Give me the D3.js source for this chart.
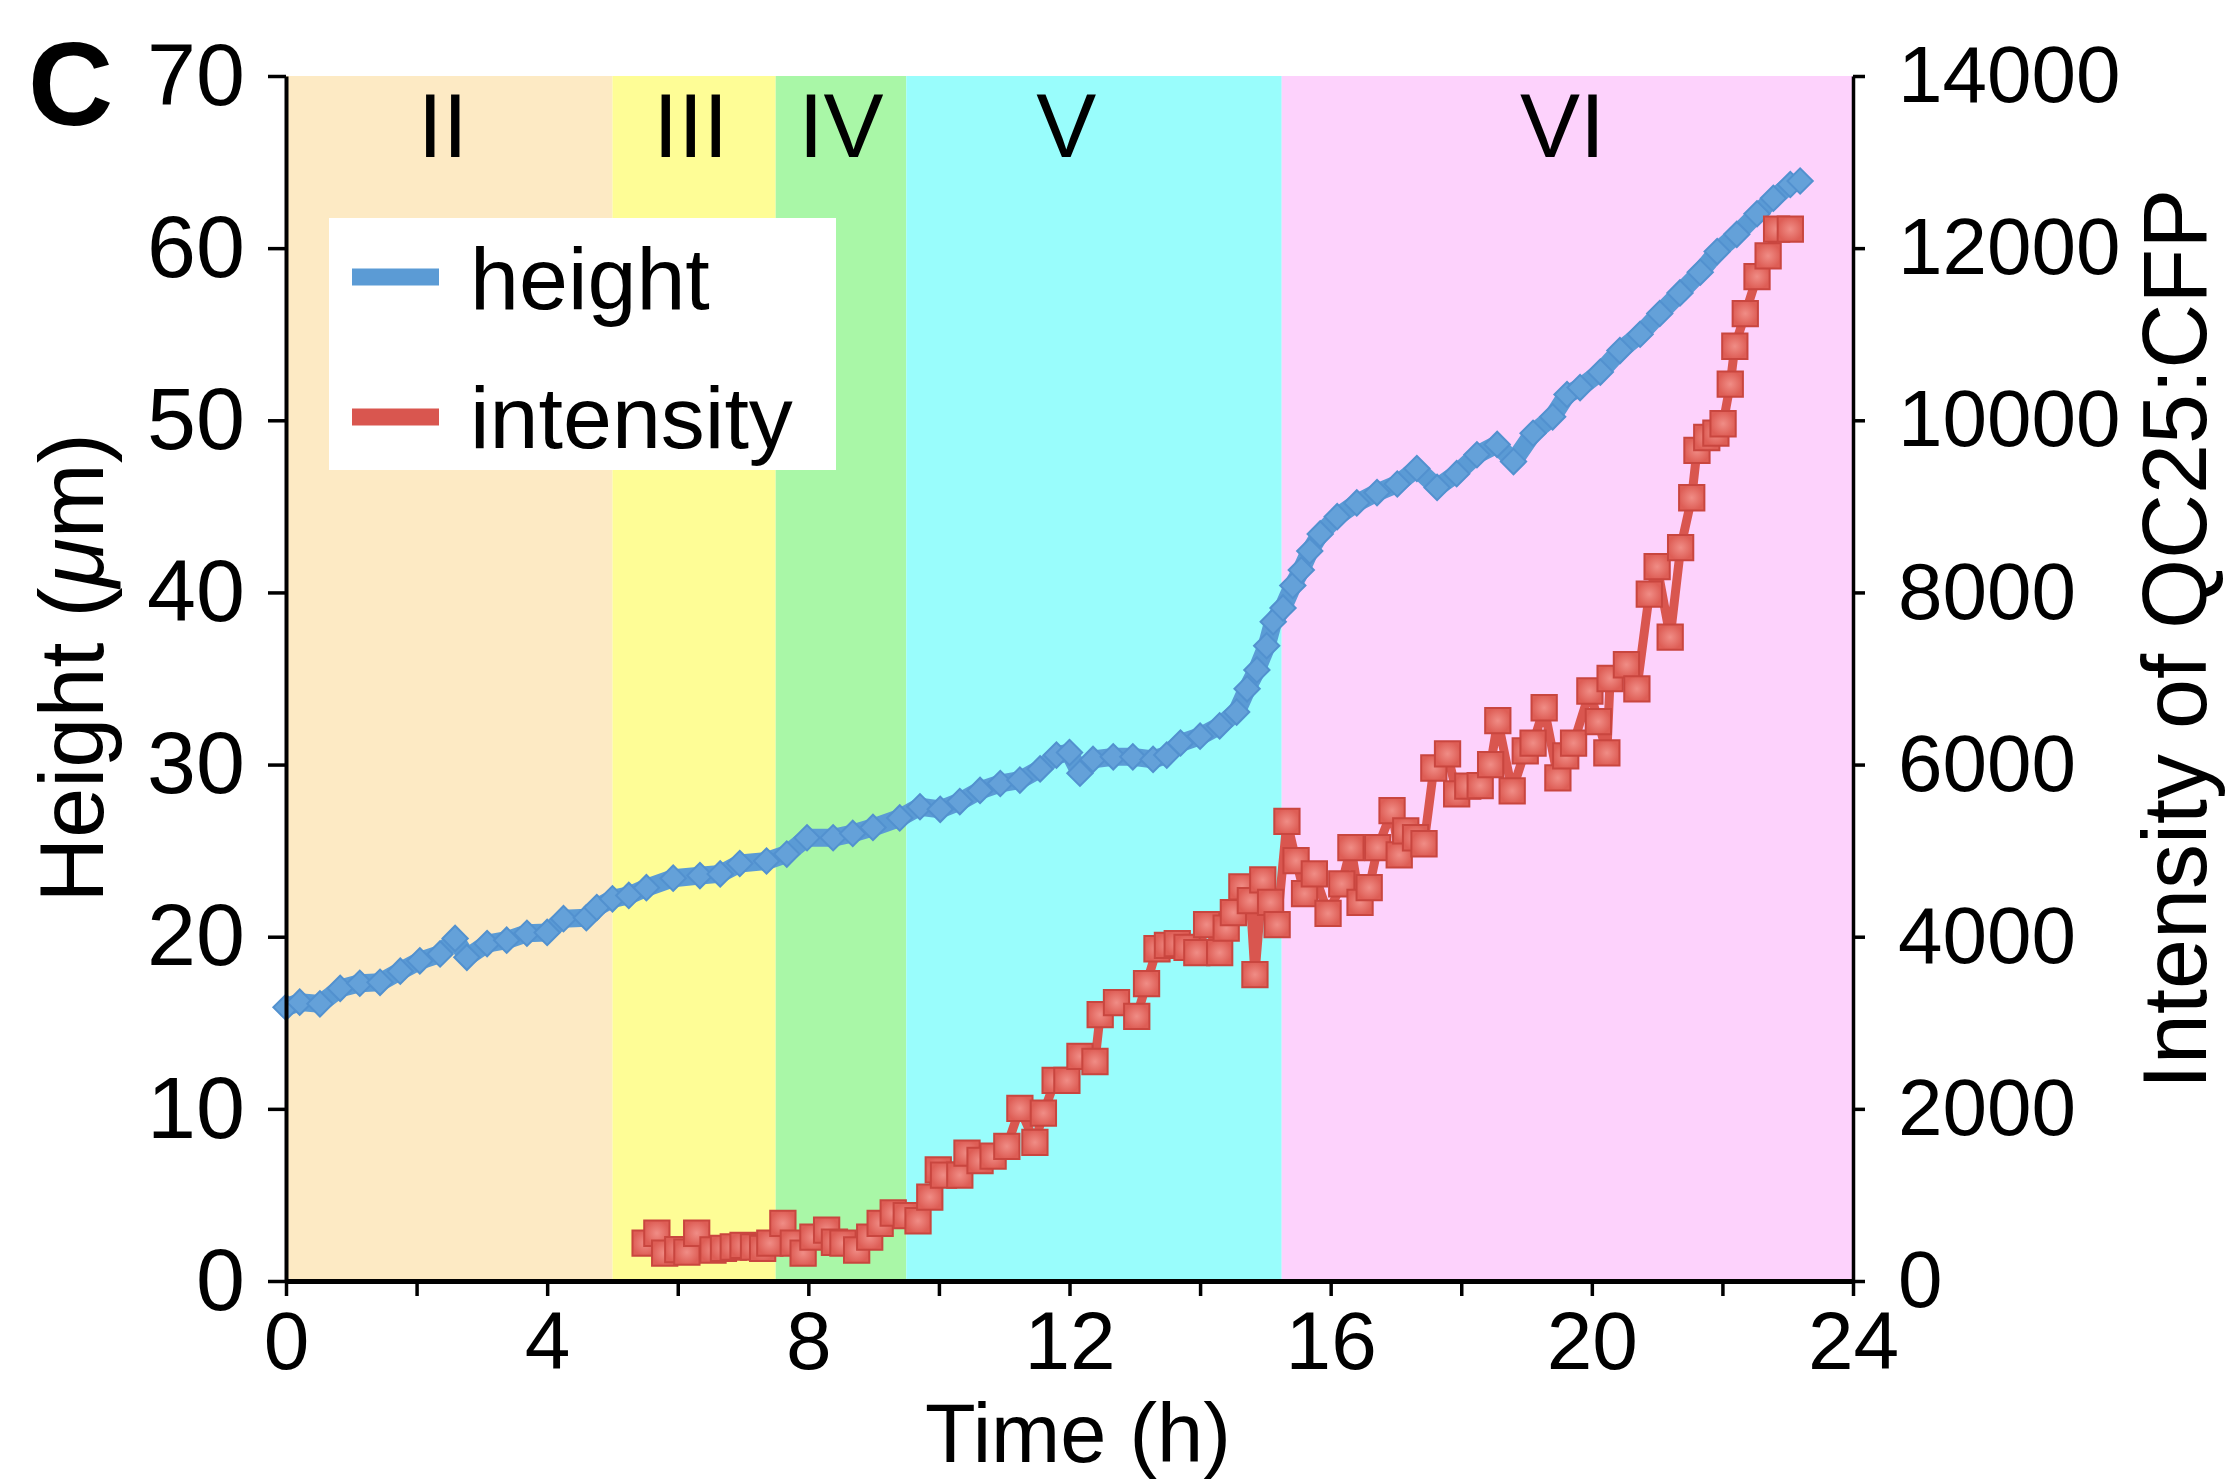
<!DOCTYPE html>
<html>
<head>
<meta charset="utf-8">
<script src="https://cdn.jsdelivr.net/npm/d3@7"></script>
<style>
  html, body { margin: 0; padding: 0; background: #fff; }
  svg { display: block; font-family: "Liberation Sans", Arial, Helvetica, sans-serif; }
</style>
</head>
<body>
<svg id="chart" width="2240" height="1480"></svg>
<script>
// ---------------- data ----------------
const phaseNames  = ["II", "III", "IV", "V", "VI"];
const phaseStart  = [0, 5, 7.5, 9.5, 15.25];
const phaseEnd    = [5, 7.5, 9.5, 15.25, 24];
const phaseLabelAt = [2.4, 6.2, 8.5, 11.95, 19.55];
const phaseColors = ["#fdeac4", "#fefd96", "#a9f7a7", "#99fdfc", "#fdd2fc"];

const xTicks = [0, 2, 4, 6, 8, 10, 12, 14, 16, 18, 20, 22, 24];
const leftTicks = [0, 10, 20, 30, 40, 50, 60, 70];
const rightTicks = [0, 2000, 4000, 6000, 8000, 10000, 12000, 14000];

// height (µm) vs time (h)
const heightTime = [0.0, 0.21, 0.52, 0.83, 1.13, 1.44, 1.75, 2.05, 2.36, 2.59, 2.77, 3.08, 3.38, 3.69, 4.0, 4.25, 4.6, 4.76, 5.0, 5.25, 5.52, 5.93, 6.34, 6.65, 6.95, 7.36, 7.67, 7.98, 8.38, 8.68, 8.99, 9.4, 9.71, 10.02, 10.32, 10.63, 10.94, 11.24, 11.55, 11.8, 12.0, 12.16, 12.36, 12.67, 12.97, 13.28, 13.49, 13.7, 14.0, 14.3, 14.56, 14.72, 14.87, 15.02, 15.12, 15.27, 15.42, 15.55, 15.68, 15.84, 16.1, 16.4, 16.71, 17.02, 17.32, 17.63, 17.93, 18.24, 18.55, 18.8, 19.1, 19.4, 19.62, 19.82, 20.13, 20.43, 20.74, 21.04, 21.35, 21.66, 21.92, 22.22, 22.53, 22.78, 23.04, 23.19];
const heightVal  = [15.9, 16.2, 16.1, 17.0, 17.3, 17.35, 18.0, 18.6, 19.0, 19.9, 18.8, 19.6, 19.8, 20.2, 20.25, 21.05, 21.1, 21.7, 22.2, 22.4, 22.85, 23.4, 23.55, 23.65, 24.25, 24.4, 24.8, 25.75, 25.75, 26.0, 26.35, 26.9, 27.55, 27.4, 27.85, 28.5, 28.9, 29.1, 29.75, 30.55, 30.7, 29.5, 30.3, 30.45, 30.45, 30.3, 30.55, 31.25, 31.65, 32.25, 33.05, 34.4, 35.5, 36.9, 38.3, 39.1, 40.4, 41.3, 42.4, 43.4, 44.4, 45.2, 45.8, 46.3, 47.2, 46.1, 46.9, 48.0, 48.6, 47.6, 49.25, 50.2, 51.5, 51.9, 52.8, 54.05, 55.0, 56.2, 57.4, 58.6, 59.8, 60.8, 62.0, 62.9, 63.7, 63.9];

// intensity of QC25:CFP vs time (h)
const intensityTime = [5.5, 5.68, 5.8, 6.0, 6.14, 6.29, 6.54, 6.7, 6.85, 7.0, 7.16, 7.3, 7.41, 7.61, 7.77, 7.92, 8.07, 8.28, 8.4, 8.53, 8.74, 8.94, 9.1, 9.3, 9.5, 9.68, 9.86, 9.99, 10.07, 10.32, 10.43, 10.63, 10.83, 11.04, 11.24, 11.47, 11.6, 11.78, 11.96, 12.16, 12.39, 12.47, 12.72, 13.03, 13.18, 13.34, 13.5, 13.65, 13.8, 13.95, 14.1, 14.3, 14.4, 14.51, 14.64, 14.77, 14.84, 14.96, 15.08, 15.18, 15.33, 15.47, 15.6, 15.75, 15.96, 16.17, 16.31, 16.45, 16.59, 16.72, 16.94, 17.05, 17.15, 17.3, 17.43, 17.58, 17.79, 17.93, 18.1, 18.29, 18.45, 18.56, 18.78, 18.98, 19.1, 19.27, 19.48, 19.6, 19.72, 19.97, 20.1, 20.23, 20.28, 20.53, 20.69, 20.88, 21.0, 21.2, 21.36, 21.53, 21.61, 21.76, 21.9, 22.01, 22.12, 22.19, 22.35, 22.53, 22.7, 22.83, 23.04];
const intensityVal  = [440, 555, 325, 365, 335, 555, 360, 380, 395, 415, 395, 380, 440, 670, 440, 325, 510, 590, 450, 440, 360, 510, 670, 790, 760, 700, 975, 1290, 1230, 1230, 1485, 1400, 1450, 1565, 2005, 1610, 1950, 2330, 2330, 2610, 2550, 3095, 3235, 3075, 3455, 3860, 3900, 3920, 3875, 3815, 4140, 3815, 4100, 4280, 4580, 4420, 3560, 4660, 4400, 4140, 5340, 4885, 4500, 4730, 4270, 4615, 5035, 4400, 4570, 5035, 5465, 4950, 5230, 5150, 5080, 5960, 6125, 5660, 5750, 5755, 6000, 6510, 5695, 6160, 6250, 6660, 5845, 6100, 6250, 6855, 6500, 6135, 7000, 7160, 6880, 7980, 8300, 7480, 8520, 9100, 9650, 9800, 9850, 9960, 10420, 10860, 11240, 11670, 11910, 12220, 12220];

const legendLabels = ["height", "intensity"];
const seriesColors = { height: "#5b9bd5", intensity: "#d9564f" };

// ---------------- drawing ----------------
const svg = d3.select("#chart");
const FONT = '"Liberation Sans", Arial, Helvetica, sans-serif';

const x  = d3.scaleLinear().domain([0, 24]).range([286, 1853]);
const yL = d3.scaleLinear().domain([0, 70]).range([1281, 76]);
const yR = d3.scaleLinear().domain([0, 14000]).range([1281, 76]);

// phase bands
svg.append("g").selectAll("rect")
  .data(phaseNames)
  .join("rect")
  .attr("x", (d, i) => x(phaseStart[i]))
  .attr("width", (d, i) => x(phaseEnd[i]) - x(phaseStart[i]))
  .attr("y", yL(70))
  .attr("height", yL(0) - yL(70))
  .attr("fill", (d, i) => phaseColors[i]);

// phase labels
svg.append("g").selectAll("text")
  .data(phaseNames)
  .join("text")
  .attr("x", (d, i) => x(phaseLabelAt[i]))
  .attr("y", 157)
  .attr("text-anchor", "middle")
  .attr("font-size", 90)
  .attr("fill", "#000")
  .text(d => d);

// legend box
const lg = svg.append("g");
lg.append("rect").attr("x", 329).attr("y", 218).attr("width", 507).attr("height", 252).attr("fill", "#fff");
lg.selectAll("line.sample")
  .data(legendLabels)
  .join("line")
  .attr("class", "sample")
  .attr("x1", 352).attr("x2", 439)
  .attr("y1", (d, i) => 277 + i * 140)
  .attr("y2", (d, i) => 277 + i * 140)
  .attr("stroke", d => seriesColors[d])
  .attr("stroke-width", 17);
lg.selectAll("text")
  .data(legendLabels)
  .join("text")
  .attr("x", 470)
  .attr("y", (d, i) => 309 + i * 139)
  .attr("font-size", 88)
  .attr("fill", "#000")
  .text(d => d);

// height series
const hData = heightTime.map((t, i) => ({ t, v: heightVal[i] }));
const iData = intensityTime.map((t, i) => ({ t, v: intensityVal[i] }));

svg.append("path")
  .datum(hData)
  .attr("fill", "none")
  .attr("stroke", "#5b9bd5")
  .attr("stroke-width", 18)
  .attr("stroke-linejoin", "round")
  .attr("stroke-linecap", "round")
  .attr("d", d3.line().x(d => x(d.t)).y(d => yL(d.v)));

const diamond = d3.symbol().type(d3.symbolSquare).size(320);
svg.append("g").selectAll("path")
  .data(hData)
  .join("path")
  .attr("d", diamond)
  .attr("transform", d => `translate(${x(d.t)},${yL(d.v)}) rotate(45)`)
  .attr("fill", "#64a1d9")
  .attr("stroke", "#5291cf")
  .attr("stroke-width", 2);

// intensity series
svg.append("path")
  .datum(iData)
  .attr("fill", "none")
  .attr("stroke", "#d9564f")
  .attr("stroke-width", 9)
  .attr("stroke-linejoin", "round")
  .attr("d", d3.line().x(d => x(d.t)).y(d => yR(d.v)));

const defs = svg.append("defs");
const grad = defs.append("radialGradient").attr("id", "sqGrad");
grad.append("stop").attr("offset", "0%").attr("stop-color", "#f08d86");
grad.append("stop").attr("offset", "100%").attr("stop-color", "#de5e56");

const square = d3.symbol().type(d3.symbolSquare).size(640);
svg.append("g").selectAll("path")
  .data(iData)
  .join("path")
  .attr("d", square)
  .attr("transform", d => `translate(${x(d.t)},${yR(d.v)})`)
  .attr("fill", "url(#sqGrad)")
  .attr("stroke", "#c9463f")
  .attr("stroke-width", 2);

// axes
function styleAxis(g, size) {
  g.selectAll("text").attr("font-size", size).attr("fill", "#000").attr("font-family", FONT);
  g.selectAll("line").attr("stroke", "#000").attr("stroke-width", 3.5);
  g.select(".domain").attr("stroke", "#000").attr("stroke-width", 4);
}

const gL = svg.append("g").attr("transform", `translate(${x(0)},0)`)
  .call(d3.axisLeft(yL).tickValues(leftTicks).tickSize(18).tickSizeOuter(0).tickPadding(23).tickFormat(d3.format("d")));
styleAxis(gL, 88);

const gR = svg.append("g").attr("transform", `translate(${x(24)},0)`)
  .call(d3.axisRight(yR).tickValues(rightTicks).tickSize(12).tickSizeOuter(0).tickPadding(33).tickFormat(d3.format("d")));
styleAxis(gR, 80);
gR.select(".domain").attr("stroke-width", 3.5);

const gX = svg.append("g").attr("transform", `translate(0,${yL(0)})`)
  .call(d3.axisBottom(x).tickValues(xTicks).tickSize(15).tickSizeOuter(0).tickPadding(15)
    .tickFormat(d => (d % 4 === 0 ? d : "")));
styleAxis(gX, 82);
gX.select(".domain").attr("stroke-width", 5);

// axis titles
svg.append("text")
  .attr("x", 1078).attr("y", 1462)
  .attr("text-anchor", "middle")
  .attr("font-size", 83)
  .text("Time (h)");

const hl = svg.append("text")
  .attr("transform", "translate(103,668) rotate(-90)")
  .attr("text-anchor", "middle")
  .attr("font-size", 90);
hl.append("tspan").text("Height (");
hl.append("tspan").attr("font-style", "italic").text("\u03bc");
hl.append("tspan").text("m)");

svg.append("text")
  .attr("transform", "translate(2206,639) rotate(-90)")
  .attr("text-anchor", "middle")
  .attr("font-size", 90)
  .text("Intensity of QC25:CFP");

// panel letter
svg.append("text")
  .attr("x", 28).attr("y", 125)
  .attr("font-size", 118)
  .attr("font-weight", "bold")
  .text("C");
</script>
</body>
</html>
